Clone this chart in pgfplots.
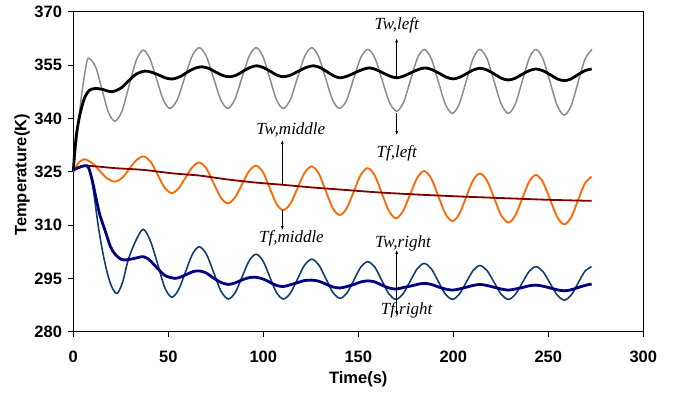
\documentclass[border=0pt]{standalone}
\usepackage{fontspec}
\setmainfont{Liberation Sans}
\newfontfamily\annfont{Liberation Serif}
\usepackage{pgfplots}
\pgfplotsset{compat=1.18}
\usetikzlibrary{arrows.meta}
\definecolor{cgray}{RGB}{140,140,140}
\definecolor{corange}{RGB}{255,102,0}
\definecolor{cdred}{RGB}{128,0,0}
\definecolor{cblue}{RGB}{18,62,110}
\definecolor{cnavy}{RGB}{0,0,128}
\begin{document}
\begin{tikzpicture}
\begin{axis}[
  at={(73.3pt,62.3pt)}, anchor=south west,
  scale only axis, width=570pt, height=320pt,
  xmin=0, xmax=300, ymin=280, ymax=370,
  xtick={0,50,...,300}, ytick={280,295,...,370},
  tick pos=left, tick align=outside, major tick length=5pt,
  axis line style={line width=1pt},
  every tick/.style={black, line width=0.8pt},
  /pgf/number format/assume math mode=true,
  ticklabel style={font=\bfseries\fontsize{16.5}{19}\selectfont},
  xticklabel style={yshift=-11pt},
  yticklabel style={xshift=-2.8pt},
  xlabel={Time(s)},
  label style={font=\bfseries\fontsize{16.5}{19}\selectfont},
  xlabel style={at={(axis description cs:0.5,0)}, anchor=base, yshift=-51.6pt},
  clip=false,
]
% Gray oscillation (upper wall)
\addplot[cgray, line width=1.5pt, smooth] coordinates {
(0,325) (2,335) (4,345) (6,352.5) (7.9,356.9) (11.8,354.4) (15.15,348.0) (18.5,341.7) (21.9,339.2) (25.6,342.0) (29.35,349.2) (33.1,356.3) (36.8,359.2) (40.3,356.8) (43.85,351.0) (47.4,345.2) (50.9,342.8) (54.75,345.3) (58.6,351.4) (62.45,357.4) (66.3,359.9) (70.05,357.4) (73.8,351.4) (77.55,345.3) (81.3,342.8) (85.0,345.3) (88.75,351.4) (92.5,357.4) (96.2,359.9) (99.8,357.4) (103.35,351.4) (106.9,345.3) (110.5,342.8) (114.25,345.3) (118,351.4) (121.75,357.4) (125.5,359.9) (129.1,357.4) (132.75,351.4) (136.4,345.3) (140,342.8) (143.75,345.0) (147.5,351.1) (151.25,357.0) (155,359.4) (158.8,356.9) (162.6,350.7) (166.4,344.5) (170.2,342) (173.8,344.5) (177.45,350.7) (181.1,356.9) (184.7,359.4) (188.4,356.8) (192.1,350.4) (195.8,344.0) (199.5,341.4) (203.1,344.0) (206.75,350.4) (210.4,356.8) (214,359.4) (217.75,356.8) (221.5,350.4) (225.25,344.0) (229,341.4) (232.6,344.0) (236.25,350.4) (239.9,356.8) (243.5,359.4) (247.2,356.7) (250.95,350.2) (254.7,343.6) (258.4,340.9) (262.05,343.6) (265.7,350.2) (269.35,356.7) (273,359.4)
};
% Black thick
\addplot[black, line width=2.8pt, smooth] coordinates {
(0,325) (0.8,331) (1.8,336) (3,339.8) (4.5,343.3) (6.2,346.1) (8.5,347.9) (11.4,348.4) (15,348.2) (20.2,347.5) (25,348.5) (29,350.5) (33,352.4) (37.5,353.3) (41,353.0) (45,352.2) (49,351.3) (52.6,351.1) (56.5,351.8) (60,353.0) (64,354.1) (67.6,354.5) (71.5,354.0) (75,353.0) (79,352.0) (82.5,351.7) (86,352.2) (89.5,353.3) (93,354.3) (96.5,354.8) (100,354.3) (103.5,353.3) (107,352.2) (110.5,351.7) (114.5,352.2) (118.5,353.3) (122.5,354.3) (126.3,354.8) (129.8,354.3) (133.3,353.2) (136.9,352.0) (140.4,351.4) (144.3,351.9) (148.1,352.8) (152,353.7) (155.8,354.2) (159.4,353.7) (163,352.8) (166.6,351.9) (170.2,351.4) (173.9,351.9) (177.6,352.8) (181.4,353.7) (185.1,354.2) (188.8,353.7) (192.5,352.7) (196.3,351.6) (200,351.1) (203.5,351.6) (207,352.6) (210.5,353.6) (214,354.1) (217.75,353.6) (221.5,352.5) (225.25,351.3) (229,350.8) (232.6,351.3) (236.25,352.4) (239.9,353.4) (243.5,353.9) (247.2,353.4) (250.95,352.3) (254.7,351.1) (258.4,350.6) (262,351.1) (265.6,352.3) (269.2,353.4) (272.8,353.9)
};
% Orange oscillation (middle wall)
\addplot[corange, line width=1.8pt, smooth] coordinates {
(0,325) (2.5,327.3) (5.5,328.5) (9.6,327.6) (13.7,325.35) (17.8,323.1) (21.9,322.2) (25.7,323.25) (29.45,325.75) (33.2,328.25) (37,329.3) (40.7,327.8) (44.4,324.15) (48.1,320.5) (51.8,319.0) (55.4,320.3) (59.05,323.3) (62.7,326.3) (66.3,327.6) (70.05,325.9) (73.8,321.85) (77.55,317.8) (81.3,316.1) (85,317.65) (88.75,321.4) (92.5,325.15) (96.2,326.7) (99.8,324.9) (103.35,320.45) (106.9,316.0) (110.5,314.2) (114.25,316.0) (118,320.35) (121.75,324.7) (125.5,326.5) (129.2,324.5) (132.85,319.65) (136.5,314.8) (140.2,312.8) (143.9,314.7) (147.6,319.4) (151.3,324.1) (155,326.0) (158.7,323.9) (162.4,318.95) (166.1,314.0) (169.8,311.9) (173.5,313.85) (177.25,318.55) (181,323.25) (184.7,325.2) (188.4,323.1) (192.1,318.15) (195.8,313.2) (199.5,311.1) (203.1,313.05) (206.75,317.8) (210.4,322.55) (214,324.5) (217.75,322.5) (221.5,317.6) (225.25,312.7) (229,310.7) (232.6,312.65) (236.25,317.4) (239.9,322.15) (243.5,324.1) (247.2,322.05) (250.95,317.15) (254.7,312.25) (258.4,310.2) (262,312.15) (265.6,316.9) (269.2,321.65) (272.8,323.6)
};
% Dark red (middle fluid)
\addplot[cdred, line width=1.8pt, smooth] coordinates {
(0,325.3) (3,326.3) (6,326.7) (12,326.5) (22,326.0) (37,325.5) (53,324.5) (66.7,323.9) (80,322.9) (95,322.0) (110.5,321.3) (125,320.6) (140,320.0) (160,319.2) (180,318.6) (205,318.0) (230,317.5) (250,317.1) (272.8,316.8)
};
% Thin blue oscillation (right wall)
\addplot[cblue, line width=1.6pt, smooth] coordinates {
(0,325.5) (3,326.2) (6.2,326.7) (8.5,325.5) (10.5,320) (13.2,309.5) (15.8,301.5) (18.4,295.5) (20.8,292) (23.2,290.8) (26,294) (28.9,300.2) (32.8,305.5) (36.8,308.8) (40.55,305.55) (44.3,299.25) (48.05,292.5) (51.8,289.7) (55.4,291.8) (59.05,296.8) (62.7,301.8) (66.3,303.9) (70.1,301.75) (73.95,296.55) (77.8,291.35) (81.6,289.2) (85.25,291.05) (88.9,295.5) (92.55,299.95) (96.2,301.8) (99.8,299.95) (103.35,295.5) (106.9,291.05) (110.5,289.2) (114.25,290.85) (118,294.8) (121.75,298.75) (125.5,300.4) (129.2,298.8) (132.95,294.9) (136.7,291.0) (140.4,289.4) (144.05,290.9) (147.7,294.55) (151.35,298.2) (155,299.7) (158.7,298.15) (162.4,294.4) (166.1,290.65) (169.8,289.1) (173.5,290.6) (177.25,294.15) (181,297.7) (184.7,299.2) (188.4,297.7) (192.1,294.15) (195.8,290.6) (199.5,289.1) (203.1,290.5) (206.75,293.85) (210.4,297.2) (214,298.6) (217.75,297.2) (221.5,293.85) (225.25,290.5) (229,289.1) (232.6,290.45) (236.25,293.7) (239.9,296.95) (243.5,298.3) (247.2,296.9) (250.95,293.6) (254.7,290.3) (258.4,288.9) (262,290.25) (265.6,293.6) (269.2,296.95) (272.8,298.3)
};
% Thick navy (right fluid)
\addplot[cnavy, line width=2.8pt, smooth] coordinates {
(0,325.5) (3,326.2) (6.2,326.7) (8,326.2) (10,322.5) (12,317.5) (14,312.8) (16.7,308.5) (19.5,304) (22,301.8) (25,300.4) (28,300.2) (32,300.6) (36.8,301.1) (40,300.2) (44,298) (48.3,295.8) (53.6,295.0) (57,295.5) (60,296.2) (63,296.9) (66.3,297.1) (70,296.5) (74,295) (78,293.8) (81.6,293.3) (85,293.7) (89,294.6) (92.5,295.2) (96.2,295.3) (100,294.8) (103.5,293.9) (107,293.0) (110.5,292.7) (114.25,293.2) (118,293.8) (121.75,294.4) (125.5,294.5) (129.2,294.2) (132.9,293.4) (136.6,292.6) (140.4,292.3) (144,292.7) (147.7,293.3) (151.4,294.0) (155,294.3) (158.7,294.0) (162.4,293.1) (166.1,292.3) (169.8,292.0) (173.5,292.4) (177.25,292.8) (181,293.3) (184.7,293.6) (188.4,293.3) (192.1,292.6) (195.8,292.0) (199.5,291.7) (203.1,292.0) (206.75,292.5) (210.4,293.0) (214,293.3) (217.75,293.0) (221.5,292.5) (225.25,292.0) (229,291.7) (232.6,292.0) (236.25,292.4) (239.9,292.9) (243.5,293.1) (247.2,292.8) (250.95,292.3) (254.7,291.8) (258.4,291.5) (262,291.8) (265.6,292.4) (269.2,293.0) (272.8,293.4)
};
% Y axis label
\node[xshift=-51.3pt, rotate=90, anchor=center, font=\bfseries\fontsize{16.5}{19}\selectfont]
  at (rel axis cs:0,0.49) {Temperature(K)};
% Annotations
\tikzset{ann/.style={font=\annfont\itshape\fontsize{17}{20}\selectfont, inner sep=0pt},
         arr/.style={-{Latex[length=4pt,width=3pt]}, line width=0.7pt, black}}
\draw[arr] (axis cs:170.2,351.7) -- (axis cs:170.2,362.5);
\node[ann] at (axis cs:170.2,366.3) {Tw,left};
\draw[arr] (axis cs:170.2,341.4) -- (axis cs:170.2,335.3);
\node[ann] at (axis cs:170.2,330.2) {Tf,left};
\draw[arr] (axis cs:110,321.25) -- (axis cs:110,333.9);
\node[ann] at (axis cs:114.5,336.7) {Tw,middle};
\draw[arr] (axis cs:110,314.2) -- (axis cs:110,308.6);
\node[ann] at (axis cs:114.8,306.3) {Tf,middle};
\draw[arr] (axis cs:170.2,292.2) -- (axis cs:170.2,303.0);
\node[ann] at (axis cs:173.5,304.7) {Tw,right};
\draw[arr] (axis cs:170.2,292.2) -- (axis cs:170.2,284.7);
\node[ann] at (axis cs:175.4,286.1) {Tf,right};
\end{axis}
\pgfresetboundingbox
\path (0,0) rectangle (675pt,394pt);
\end{tikzpicture}
\end{document}
